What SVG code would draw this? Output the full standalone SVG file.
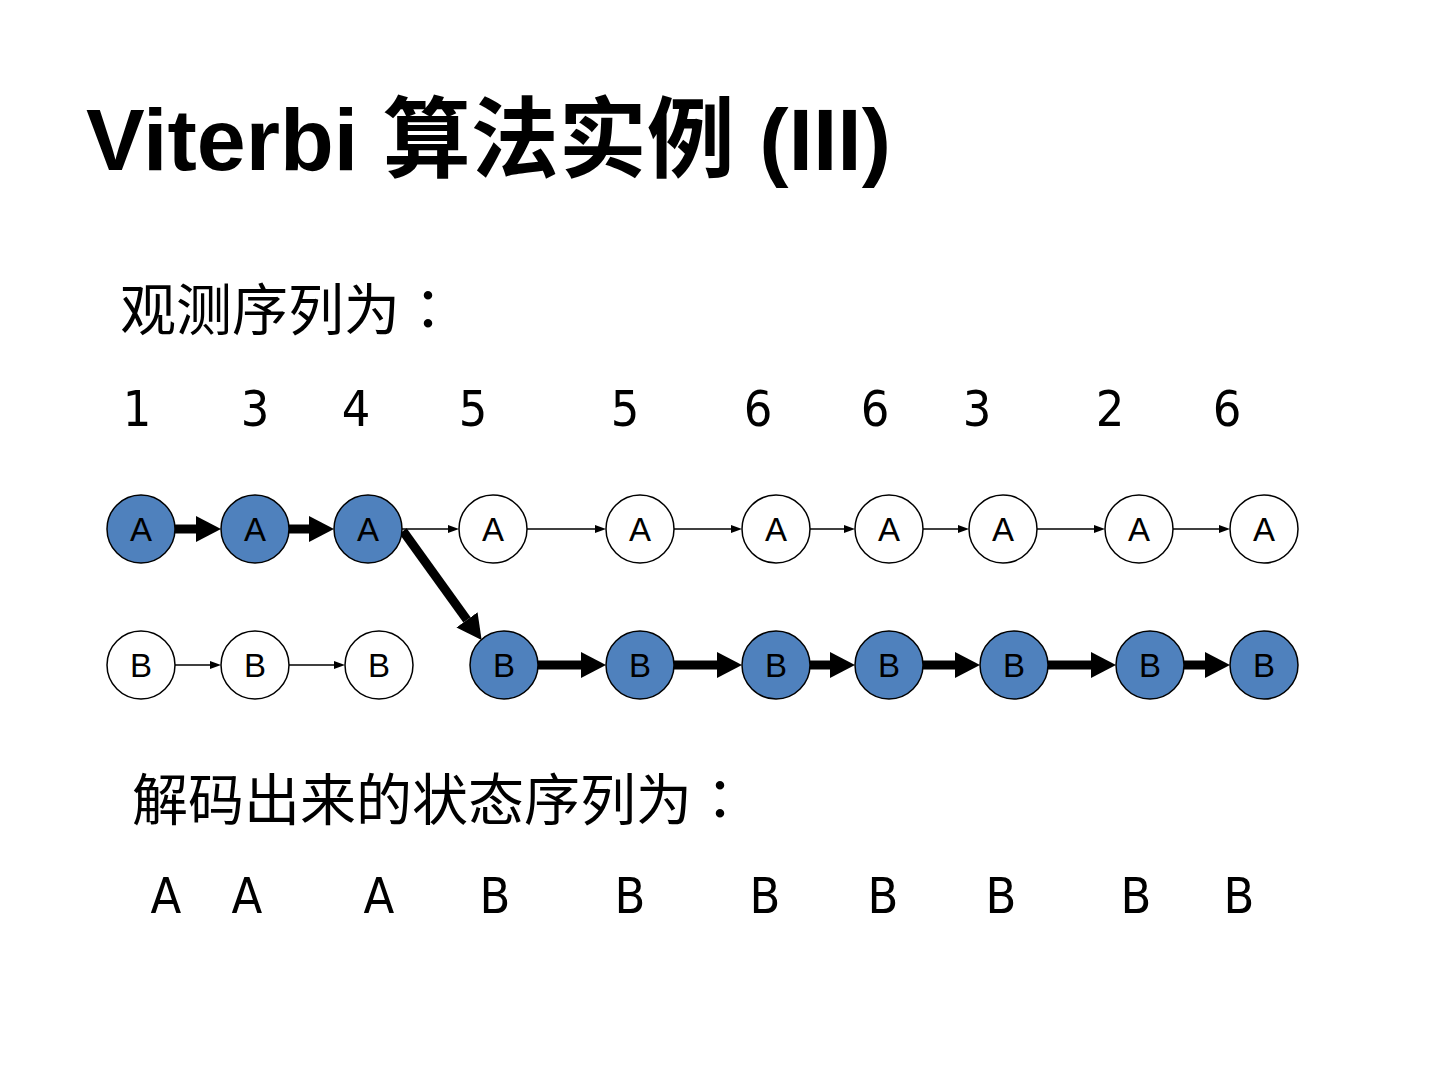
<svg xmlns="http://www.w3.org/2000/svg" width="1440" height="1080" viewBox="0 0 1440 1080">
<style>
.title{font-family:"Liberation Sans","Noto Sans CJK SC",sans-serif;font-weight:bold;font-size:88px;fill:#000}
.cn{font-family:"Liberation Sans","Noto Sans CJK SC",sans-serif;font-size:56px;fill:#000}
.colon{font-family:"Noto Sans CJK TC",sans-serif}
.num{font-family:"Liberation Sans Narrow","DejaVu Sans Condensed","Liberation Sans",sans-serif;font-size:50px;fill:#000;text-anchor:middle}
.on circle{fill:#4F81BD;stroke:#000;stroke-width:1.5}
.off circle{fill:#fff;stroke:#000;stroke-width:1.5}
.node text{font-family:"Liberation Sans",sans-serif;font-size:33px;fill:#000;text-anchor:middle}
.thin{stroke:#000;stroke-width:1.5;fill:none;marker-end:url(#ah)}
.thick{stroke:#000;stroke-width:9;fill:none;marker-end:url(#bh)}
</style>
<defs>
<marker id="ah" markerUnits="userSpaceOnUse" markerWidth="12" markerHeight="10" refX="0" refY="5" orient="auto" viewBox="0 0 12 10"><path d="M0,1 L11,5 L0,9 z" fill="#000"/></marker>
<marker id="bh" markerUnits="userSpaceOnUse" markerWidth="26" markerHeight="28" refX="0" refY="14" orient="auto" viewBox="0 0 26 28"><path d="M0,1 L25,14 L0,27 z" fill="#000"/></marker>
</defs>
<rect width="1440" height="1080" fill="#fff"/>
<text class="title" x="86" y="170">Viterbi 算法实例 (III)</text>
<text class="cn" x="120" y="330">观测序列为<tspan class="colon">：</tspan></text>
<g id="obs">
<text class="num" x="137" y="426">1</text>
<text class="num" x="255" y="426">3</text>
<text class="num" x="356" y="426">4</text>
<text class="num" x="473" y="426">5</text>
<text class="num" x="625" y="426">5</text>
<text class="num" x="758" y="426">6</text>
<text class="num" x="875" y="426">6</text>
<text class="num" x="977" y="426">3</text>
<text class="num" x="1110" y="426">2</text>
<text class="num" x="1227" y="426">6</text>
</g>
<g id="connectors">
<line class="thick" x1="175" y1="529" x2="196" y2="529"/>
<line class="thick" x1="289" y1="529" x2="309" y2="529"/>
<line class="thin" x1="402" y1="529" x2="448" y2="529"/>
<line class="thin" x1="527" y1="529" x2="595" y2="529"/>
<line class="thin" x1="674" y1="529" x2="731" y2="529"/>
<line class="thin" x1="810" y1="529" x2="844" y2="529"/>
<line class="thin" x1="923" y1="529" x2="958" y2="529"/>
<line class="thin" x1="1037" y1="529" x2="1094" y2="529"/>
<line class="thin" x1="1173" y1="529" x2="1219" y2="529"/>
<line class="thin" x1="175" y1="665" x2="210" y2="665"/>
<line class="thin" x1="289" y1="665" x2="334" y2="665"/>
<line class="thick" x1="403" y1="531" x2="467" y2="619.8"/>
<line class="thick" x1="538" y1="665" x2="581" y2="665"/>
<line class="thick" x1="674" y1="665" x2="717" y2="665"/>
<line class="thick" x1="810" y1="665" x2="830" y2="665"/>
<line class="thick" x1="923" y1="665" x2="955" y2="665"/>
<line class="thick" x1="1048" y1="665" x2="1091" y2="665"/>
<line class="thick" x1="1184" y1="665" x2="1205" y2="665"/>
</g>
<g id="A1" class="node on"><circle cx="141" cy="529" r="34"/><text x="141" y="541">A</text></g>
<g id="A2" class="node on"><circle cx="255" cy="529" r="34"/><text x="255" y="541">A</text></g>
<g id="A3" class="node on"><circle cx="368" cy="529" r="34"/><text x="368" y="541">A</text></g>
<g id="A4" class="node off"><circle cx="493" cy="529" r="34"/><text x="493" y="541">A</text></g>
<g id="A5" class="node off"><circle cx="640" cy="529" r="34"/><text x="640" y="541">A</text></g>
<g id="A6" class="node off"><circle cx="776" cy="529" r="34"/><text x="776" y="541">A</text></g>
<g id="A7" class="node off"><circle cx="889" cy="529" r="34"/><text x="889" y="541">A</text></g>
<g id="A8" class="node off"><circle cx="1003" cy="529" r="34"/><text x="1003" y="541">A</text></g>
<g id="A9" class="node off"><circle cx="1139" cy="529" r="34"/><text x="1139" y="541">A</text></g>
<g id="A10" class="node off"><circle cx="1264" cy="529" r="34"/><text x="1264" y="541">A</text></g>
<g id="B1" class="node off"><circle cx="141" cy="665" r="34"/><text x="141" y="677">B</text></g>
<g id="B2" class="node off"><circle cx="255" cy="665" r="34"/><text x="255" y="677">B</text></g>
<g id="B3" class="node off"><circle cx="379" cy="665" r="34"/><text x="379" y="677">B</text></g>
<g id="B4" class="node on"><circle cx="504" cy="665" r="34"/><text x="504" y="677">B</text></g>
<g id="B5" class="node on"><circle cx="640" cy="665" r="34"/><text x="640" y="677">B</text></g>
<g id="B6" class="node on"><circle cx="776" cy="665" r="34"/><text x="776" y="677">B</text></g>
<g id="B7" class="node on"><circle cx="889" cy="665" r="34"/><text x="889" y="677">B</text></g>
<g id="B8" class="node on"><circle cx="1014" cy="665" r="34"/><text x="1014" y="677">B</text></g>
<g id="B9" class="node on"><circle cx="1150" cy="665" r="34"/><text x="1150" y="677">B</text></g>
<g id="B10" class="node on"><circle cx="1264" cy="665" r="34"/><text x="1264" y="677">B</text></g>
<text class="cn" x="132" y="820">解码出来的状态序列为<tspan class="colon">：</tspan></text>
<g id="decoded">
<text class="num" x="166" y="913">A</text>
<text class="num" x="247" y="913">A</text>
<text class="num" x="379" y="913">A</text>
<text class="num" x="495" y="913">B</text>
<text class="num" x="630" y="913">B</text>
<text class="num" x="765" y="913">B</text>
<text class="num" x="883" y="913">B</text>
<text class="num" x="1001" y="913">B</text>
<text class="num" x="1136" y="913">B</text>
<text class="num" x="1239" y="913">B</text>
</g>
</svg>
